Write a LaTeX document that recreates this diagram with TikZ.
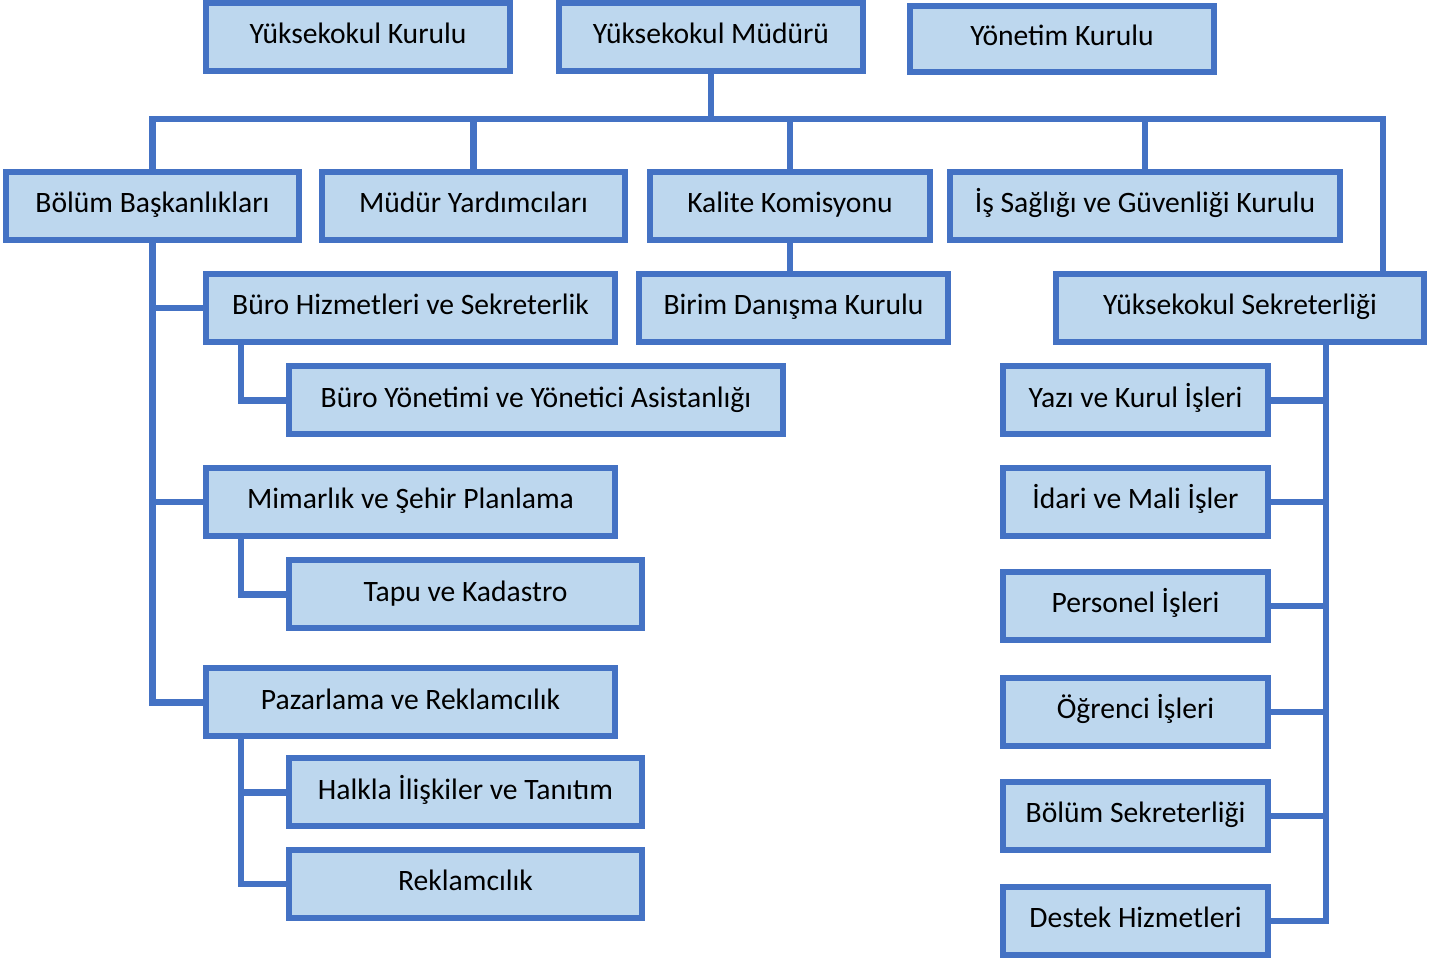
\documentclass[tikz,border=0pt]{standalone}
\usepackage{fontspec}
\setmainfont{Carlito}
\definecolor{orgline}{HTML}{4472C4}
\definecolor{orgfill}{HTML}{BDD7EE}

\begin{document}
\begin{tikzpicture}[x=0.5pt, y=-0.5pt,
    unit/.style={draw=orgline, fill=orgfill, line width=3pt, minimum height=34pt,
        font=\fontsize{14.8pt}{17pt}\selectfont, text height=0.9em, text depth=0.2em, inner sep=0pt},
    link/.style={draw=orgline, line width=3.3pt}]

    \useasboundingbox (0,0) rectangle (1448,961);

    \node[unit, minimum width=152pt] (kurul)   at (358,37)    {Yüksekokul Kurulu};
    \node[unit, minimum width=152pt] (mudur)   at (711,37)    {Yüksekokul Müdürü};
    \node[unit, minimum width=152pt, minimum height=33pt] (yonetim) at (1062,39) {Yönetim Kurulu};

    \node[unit, minimum width=146.5pt] (bolum)  at (152.5,206) {Bölüm Başkanlıkları};
    \node[unit, minimum width=151.5pt] (yard)   at (473.5,206) {Müdür Yardımcıları};
    \node[unit, minimum width=140pt]   (kalite) at (790,206)   {Kalite Komisyonu};
    \node[unit, minimum width=195pt]   (isg)    at (1145,206)  {İş Sağlığı ve Güvenliği Kurulu};

    \node[unit, minimum width=204.5pt] (buro)   at (410.5,308) {Büro Hizmetleri ve Sekreterlik};
    \node[unit, minimum width=154.5pt] (birim)  at (793.5,308) {Birim Danışma Kurulu};
    \node[unit, minimum width=184pt]   (sekr)   at (1240,308)  {Yüksekokul Sekreterliği};

    \node[unit, minimum width=247pt]   (asist)  at (536,400.5) {Büro Yönetimi ve Yönetici Asistanlığı};
    \node[unit, minimum width=204.5pt] (mimar)  at (410.5,502) {Mimarlık ve Şehir Planlama};
    \node[unit, minimum width=176.5pt] (tapu)   at (465.5,594.5) {Tapu ve Kadastro};
    \node[unit, minimum width=204.5pt] (pazar)  at (410.5,702.5) {Pazarlama ve Reklamcılık};
    \node[unit, minimum width=176.5pt] (halkla) at (465.5,792.5) {Halkla İlişkiler ve Tanıtım};
    \node[unit, minimum width=176.5pt] (reklam) at (465.5,884) {Reklamcılık};

    \node[unit, minimum width=132.5pt] (yazi)   at (1135.5,400.5) {Yazı ve Kurul İşleri};
    \node[unit, minimum width=132.5pt] (idari)  at (1135.5,502) {İdari ve Mali İşler};
    \node[unit, minimum width=132.5pt] (pers)   at (1135.5,606) {Personel İşleri};
    \node[unit, minimum width=132.5pt] (ogr)    at (1135.5,712) {Öğrenci İşleri};
    \node[unit, minimum width=132.5pt] (bsekr)  at (1135.5,816) {Bölüm Sekreterliği};
    \node[unit, minimum width=132.5pt] (destek) at (1135.5,921) {Destek Hizmetleri};

    \coordinate (bus) at (711,119);
    \coordinate (corner) at (1383,119);
    \coordinate (sline) at ([xshift=43pt]sekr.south);

    \draw[link] (mudur.south) -- (bus);
    \draw[link] (bolum.north) |- (corner) -- (corner |- sekr.north);
    \draw[link] (yard.north) -- (yard.north |- bus);
    \draw[link] (kalite.north) -- (kalite.north |- bus);
    \draw[link] (isg.north) -- (isg.north |- bus);
    \draw[link] (kalite.south) -- (kalite.south |- birim.north);

    \draw[link] (bolum.south) |- (pazar.west);
    \draw[link] (bolum.south |- buro.west) -- (buro.west);
    \draw[link] (bolum.south |- mimar.west) -- (mimar.west);
    \draw[link] ([xshift=19pt]buro.south west) |- (asist.west);
    \draw[link] ([xshift=19pt]mimar.south west) |- (tapu.west);
    \draw[link] ([xshift=19pt]pazar.south west) |- (reklam.west);
    \draw[link] ([xshift=19pt]pazar.south west |- halkla.west) -- (halkla.west);

    \draw[link] (sline) |- (destek.east);
    \foreach \n in {yazi, idari, pers, ogr, bsekr}
        \draw[link] (\n.east) -- (\n.east -| sline);
\end{tikzpicture}
\end{document}
